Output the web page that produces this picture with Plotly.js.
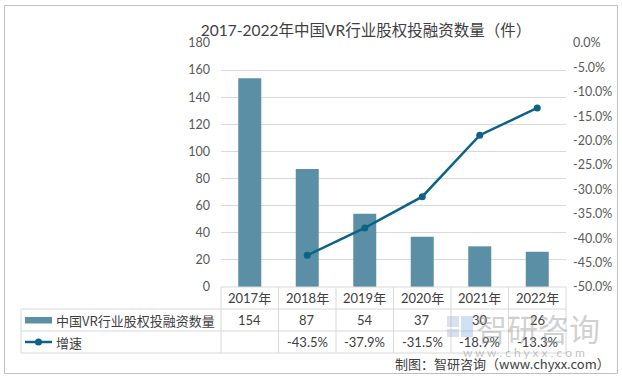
<!DOCTYPE html>
<html><head><meta charset="utf-8">
<script src="https://cdn.plot.ly/plotly-3.0.1.min.js"></script>
<style>html,body{margin:0;padding:0;background:#fff;}</style>
</head><body>
<div id="chart" style="width:622px;height:378px"></div>
<script>
const years = ["2017年","2018年","2019年","2020年","2021年","2022年"];
const counts = [154, 87, 54, 37, 30, 26];
const growthYears = ["2018年","2019年","2020年","2021年","2022年"];
const growth = [-43.5, -37.9, -31.5, -18.9, -13.3];
const leftTicks = [0,20,40,60,80,100,120,140,160,180];
const rightTicks = [0,-5,-10,-15,-20,-25,-30,-35,-40,-45,-50];
const seriesNames = ["中国VR行业股权投融资数量","增速"];

const FONT = 'Lato, "Noto Sans CJK SC", sans-serif';
const CJK = '"Noto Sans CJK SC", sans-serif';
const BAR = '#5a8fa6';
const LINE = '#0c6287';
const GRID = '#d9d9d9';
const TXT = '#404040';

// plot area pixels
const PL=221, PR=566, PT=43, PB=287;
const X = p => (p-PL)/(PR-PL);
const Y = p => (PB-p)/(PB-PT);

const shapes = [];
const annotations = [];
function line(x0,y0,x1,y1,color,w){shapes.push({type:'line',xref:'paper',yref:'paper',x0:X(x0),y0:Y(y0),x1:X(x1),y1:Y(y1),line:{color:color,width:w||1}});}

// outer border
shapes.push({type:'rect',xref:'paper',yref:'paper',x0:X(4.5),y0:Y(5.5),x1:X(617.5),y1:Y(373.5),line:{color:'#bfbfbf',width:1},fillcolor:'rgba(0,0,0,0)'});

// data table
const colW = (PR-PL)/years.length;
const rowTop=287, r1=309, r2=331, r3=353;
line(PL,rowTop,PR,rowTop,GRID);
line(21,r1,PR,r1,GRID);
line(21,r2,PR,r2,GRID);
line(21,r3,PR,r3,GRID);
line(21,r1,21,r3,GRID);
for(let i=0;i<=years.length;i++){ line(PL+i*colW,rowTop,PL+i*colW,r3,GRID); }

function txt(x,y,t,opts){annotations.push(Object.assign({xref:'paper',yref:'paper',x:X(x),y:Y(y),text:t,showarrow:false,xanchor:'center',yanchor:'middle',font:{family:FONT,size:13,color:TXT}},opts||{}));}

const growthLabels = years.map(y => { const k = growthYears.indexOf(y); return k<0 ? '' : growth[k].toFixed(1)+'%'; });
years.forEach((y,i)=>{
  const cx = PL + (i+0.5)*colW;
  txt(cx, 298, y);
  txt(cx, 320, String(counts[i]));
  if(growthLabels[i]) txt(cx, 342, growthLabels[i]);
});

// legend keys in table
shapes.push({type:'rect',xref:'paper',yref:'paper',x0:X(25),y0:Y(317),x1:X(52),y1:Y(323.5),fillcolor:BAR,line:{width:0}});
line(25,342,52,342,LINE,2.5);
shapes.push({type:'circle',xref:'paper',yref:'paper',x0:X(35),y0:Y(338.5),x1:X(42),y1:Y(345.5),fillcolor:LINE,line:{width:0}});
txt(54, 320, seriesNames[0], {xanchor:'left', font:{family:CJK,size:13,color:TXT}});
txt(54, 342, seriesNames[1], {xanchor:'left', font:{family:CJK,size:13,color:TXT}});

// watermark
shapes.push({type:'rect',xref:'paper',yref:'paper',x0:X(447),y0:Y(316),x1:X(459),y1:Y(327),fillcolor:'rgba(150,170,200,0.35)',line:{width:0}});
shapes.push({type:'rect',xref:'paper',yref:'paper',x0:X(447),y0:Y(329),x1:X(459),y1:Y(337),fillcolor:'rgba(150,170,200,0.35)',line:{width:0}});
shapes.push({type:'rect',xref:'paper',yref:'paper',x0:X(461),y0:Y(316),x1:X(473),y1:Y(337),fillcolor:'rgba(120,170,220,0.35)',line:{width:0}});
txt(538, 327, '智研咨询', {font:{family:CJK,size:31,color:'rgba(150,150,150,0.45)'}});
txt(524, 352, 'w w w . c h y x x . c o m', {font:{family:FONT,size:12,color:'rgba(150,150,150,0.6)'}});
txt(612, 363, '制图：智研咨询（www.chyxx.com）', {xanchor:'right', font:{family:CJK,size:13,color:TXT}});

const data = [
  {type:'bar', x:years, y:counts, name:seriesNames[0], marker:{color:BAR}, width:0.4, hoverinfo:'skip'},
  {type:'scatter', mode:'lines+markers', x:growthYears, y:growth, yaxis:'y2', name:seriesNames[1],
   line:{color:LINE,width:2.5}, marker:{color:LINE,size:7}, hoverinfo:'skip'}
];

const layout = {
  width:622, height:378,
  margin:{l:PL, r:622-PR, t:PT, b:378-PB, pad:0},
  paper_bgcolor:'#fff', plot_bgcolor:'#fff',
  showlegend:false,
  font:{family:FONT, size:12.5, color:'#595959'},
  title:{text:'2017-2022年中国VR行业股权投融资数量（件）', x:366/622, xanchor:'center', y:1-31/378, yanchor:'middle',
         font:{family:FONT, size:15.5, color:TXT}},
  xaxis:{type:'category', categoryorder:'array', categoryarray:years, showticklabels:false, showgrid:false, zeroline:false, showline:false, ticks:'', fixedrange:true},
  yaxis:{range:[0,180], tickvals:leftTicks, ticktext:leftTicks.map(String), showgrid:true, gridcolor:GRID, gridwidth:1, zeroline:false, showline:false, ticks:'', ticklabelstandoff:10},
  yaxis2:{overlaying:'y', side:'right', range:[-50,0], tickvals:rightTicks, ticktext:rightTicks.map(v=>v.toFixed(1)+'%'), showgrid:false, zeroline:false, showline:false, ticks:'', ticklabelstandoff:6},
  shapes:shapes, annotations:annotations
};
Plotly.newPlot('chart', data, layout, {staticPlot:true, displayModeBar:false});
</script>
</body></html>
